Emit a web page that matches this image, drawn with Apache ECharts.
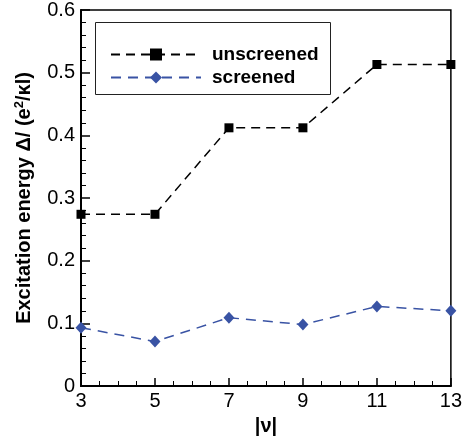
<!DOCTYPE html>
<html><head><meta charset="utf-8">
<script src="https://cdn.jsdelivr.net/npm/echarts@6/dist/echarts.min.js"></script>
<style>html,body{margin:0;padding:0;background:#fff}#c{width:465px;height:441px}</style>
</head><body><div id="c"></div>
<script>
const nu = [3, 5, 7, 9, 11, 13];
const unscreened = [0.274, 0.274, 0.412, 0.412, 0.513, 0.513];
const screened = [0.093, 0.071, 0.109, 0.098, 0.127, 0.120];
const seriesNames = ['unscreened', 'screened'];

const FONT = 'Liberation Sans';
const BLUE = '#3953A4';
const chart = echarts.init(document.getElementById('c'));
chart.setOption({
  animation: false,
  textStyle: {fontFamily: FONT},
  grid: {left: 81, right: 10, top: 7, bottom: 49, show: true, borderColor: '#000', borderWidth: 1.5, backgroundColor: 'transparent'},
  graphic: [{type: 'rect', left: 95, top: 22, shape: {width: 235, height: 72}, style: {fill: '#fff', stroke: '#222', lineWidth: 1}, z: 50}],
  legend: {
    orient: 'vertical', left: 105, top: 40, itemWidth: 90, itemHeight: 15, itemGap: 4, z: 60,
    data: seriesNames,
    textStyle: {fontFamily: FONT, fontSize: 19, fontWeight: 'bold', color: '#000', padding: [0, 0, 0, 6], lineHeight: 19}
  },
  xAxis: {
    type: 'value', min: 3, max: 13, interval: 2,
    name: '|ν|', nameLocation: 'middle', nameGap: 30,
    nameTextStyle: {fontFamily: FONT, fontSize: 20, fontWeight: 'bold', color: '#000'},
    axisLine: {lineStyle: {color: '#000', width: 2}},
    axisTick: {inside: true, length: 8, lineStyle: {color: '#000', width: 1.5}},
    minorTick: {show: true, splitNumber: 4, length: 5, lineStyle: {color: '#000', width: 1}},
    splitLine: {show: false},
    axisLabel: {fontFamily: FONT, fontSize: 20, color: '#000', margin: 5}
  },
  yAxis: {
    type: 'value', min: 0, max: 0.6, interval: 0.1,
    name: 'Excitation energy Δ/ (e{sup|2}/κl)', nameLocation: 'middle', nameGap: 46,
    nameTextStyle: {fontFamily: FONT, fontSize: 20, fontWeight: 'bold', color: '#000', lineHeight: 22,
      rich: {sup: {fontFamily: FONT, fontSize: 13, fontWeight: 'bold', color: '#000', verticalAlign: 'top', lineHeight: 12}}},
    axisLine: {show: true, lineStyle: {color: '#000', width: 2}},
    axisTick: {show: true, inside: true, length: 9, lineStyle: {color: '#000', width: 1.5}},
    minorTick: {show: true, splitNumber: 5, length: 5, lineStyle: {color: '#000', width: 1}},
    splitLine: {show: false},
    axisLabel: {fontFamily: FONT, fontSize: 20, color: '#000', margin: 6, formatter: v => String(Math.round(v * 10) / 10)}
  },
  series: [
    {name: seriesNames[0], type: 'line', data: nu.map((x, i) => [x, unscreened[i]]),
     symbol: 'rect', symbolSize: 9, itemStyle: {color: '#000'},
     lineStyle: {color: '#000', width: 1.5, type: [9, 6]}, z: 5},
    {name: seriesNames[1], type: 'line', data: nu.map((x, i) => [x, screened[i]]),
     symbol: 'diamond', symbolSize: [11, 12], itemStyle: {color: BLUE},
     lineStyle: {color: BLUE, width: 1.5, type: [10, 7]}, z: 5}
  ]
});
</script></body></html>
